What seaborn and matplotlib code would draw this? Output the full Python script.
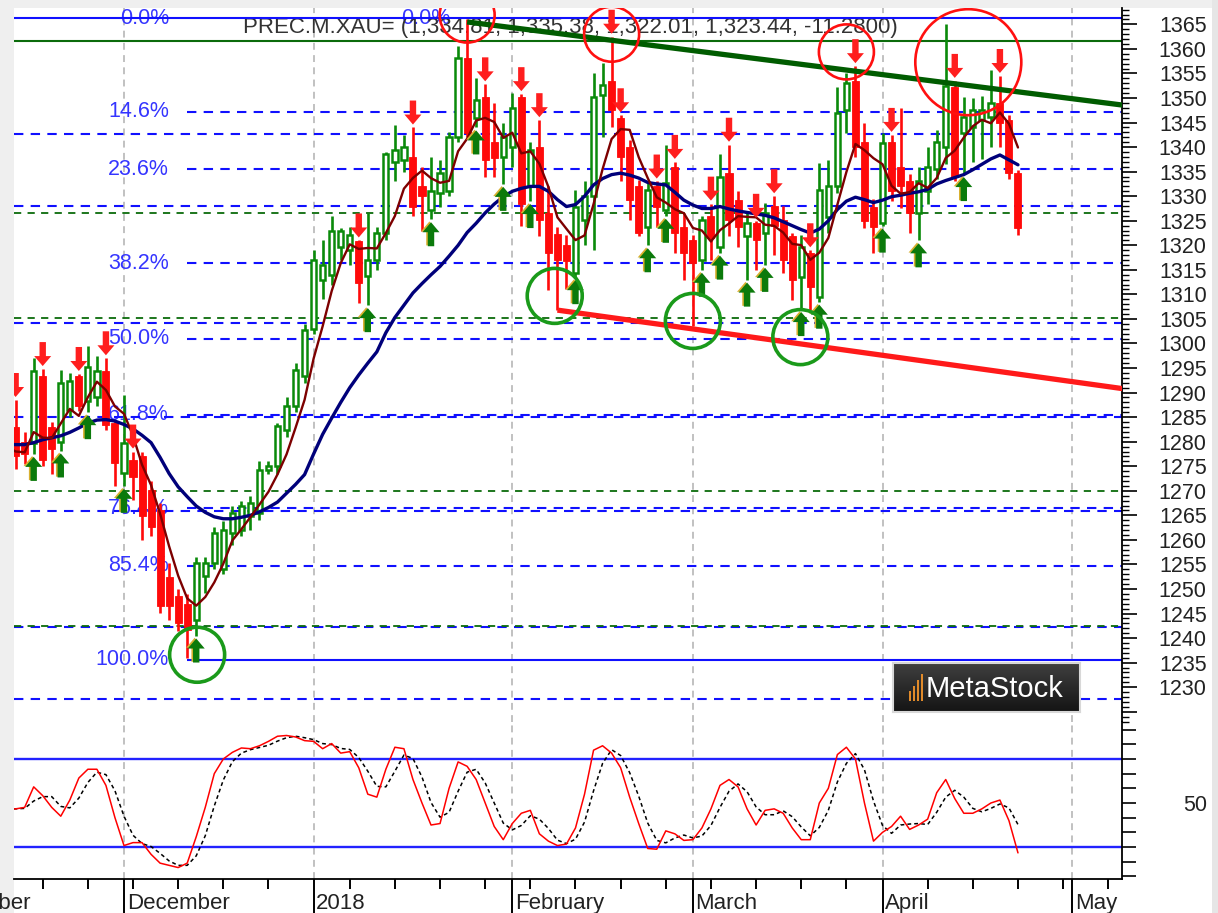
import numpy as np
import pandas as pd
import matplotlib
matplotlib.use("Agg")
import matplotlib.pyplot as plt
import matplotlib.transforms as mtransforms
from matplotlib.path import Path
from matplotlib.patches import Rectangle
from matplotlib.ticker import FixedLocator, FixedFormatter, NullFormatter
import seaborn as sns

# ---------------------------------------------------------------- data
title_text = "PREC.M.XAU= (1,334.81, 1,335.38, 1,322.01, 1,323.44, -11.2800)"
first_date = "2017-11-14"
closed_days = ["2018-01-01", "2018-03-30"]
month_names = {11: "November", 12: "December", 1: "2018", 2: "February",
               3: "March", 4: "April", 5: "May"}

open_ = [1282, 1283, 1280, 1279.7, 1293.3, 1283, 1280, 1286.5, 1293.3, 1288.2,
         1289.2, 1294.3, 1283.8, 1273.6, 1276.3, 1277, 1270.2, 1266, 1252.5, 1248.5,
         1247, 1243.7, 1252.6, 1255.3, 1254, 1261.4, 1262.1, 1264.8, 1265.5, 1274.3,
         1275, 1282.4, 1287.2, 1293.3, 1303, 1313, 1314, 1319.6, 1319, 1320.8,
         1313.7, 1317, 1322.5, 1337, 1337.4, 1338, 1332, 1327.2, 1330.6, 1331,
         1342.1, 1358.1, 1346, 1350.3, 1341, 1338, 1340, 1350.3, 1332, 1340.1,
         1326.5, 1322.4, 1320, 1314.3, 1325.2, 1330, 1350.6, 1353.5, 1346, 1340,
         1332, 1323.8, 1332, 1327.2, 1336, 1323.8, 1321, 1317, 1326, 1319.7,
         1334.7, 1329.2, 1321.8, 1324.5, 1322.5, 1328, 1325.2, 1321.8, 1313.6, 1318.5,
         1309.5, 1325.8, 1332, 1347.6, 1353.5, 1341, 1327.9, 1324.5, 1341, 1336,
         1333, 1326.5, 1331, 1335.5, 1340, 1352.3, 1342.8, 1344.2, 1345.5, 1346.2,
         1349, 1345.5, 1334.81]
high = [1284, 1288.5, 1282, 1297, 1294.8, 1284, 1294.6, 1294, 1293.8, 1299.4,
        1297.4, 1297, 1284.5, 1289.6, 1278, 1278, 1272, 1267.5, 1255.3, 1250,
        1249, 1256.6, 1256.6, 1262.7, 1263.8, 1267, 1268, 1269, 1276, 1276,
        1283.8, 1289.2, 1296, 1304, 1319, 1321, 1326, 1323.5, 1323.8, 1321,
        1326.5, 1323.8, 1339.1, 1344.5, 1342.5, 1344, 1336, 1338, 1337.4, 1343,
        1360.5, 1366.1, 1354, 1352.8, 1349, 1345, 1351, 1350.8, 1341.1, 1345.5,
        1332, 1323.8, 1322, 1331.3, 1333, 1355, 1357.1, 1362.5, 1346.5, 1341.5,
        1333.3, 1333, 1333, 1340.4, 1337, 1326.5, 1322, 1326, 1328.5, 1338.7,
        1340.5, 1331, 1326.5, 1325, 1328.6, 1330, 1328, 1322.5, 1322, 1319,
        1336.7, 1337.4, 1352.3, 1355, 1356.5, 1345, 1329.5, 1342.8, 1342.5, 1348,
        1334.5, 1336, 1340, 1343.5, 1365, 1353.5, 1350.3, 1350, 1350.5, 1355.7,
        1354.5, 1346.5, 1335.38]
low = [1276.5, 1274.5, 1275.5, 1277.5, 1275, 1273.5, 1278.2, 1285, 1286.2, 1286,
       1287.2, 1282.4, 1270.9, 1271, 1268.2, 1260, 1260.7, 1245.1, 1243.7, 1241.5,
       1235.9, 1240.5, 1249.2, 1254, 1253, 1259, 1260.7, 1262, 1264, 1273.5,
       1273.5, 1281, 1286, 1292, 1302, 1309, 1312, 1317, 1316, 1308.2,
       1307.8, 1315, 1321, 1333, 1335, 1325.9, 1323, 1325.3, 1327.9, 1330,
       1341, 1342.1, 1344, 1334, 1334, 1332.5, 1336, 1324, 1329, 1321.8,
       1310.9, 1306.8, 1311, 1313.5, 1320, 1319, 1342, 1344, 1333, 1325.2,
       1321.8, 1320, 1323.8, 1326, 1318.4, 1313, 1303.5, 1315, 1317, 1318.5,
       1321.8, 1319.7, 1313, 1315, 1316, 1318, 1314.3, 1308.9, 1307, 1306.8,
       1308.5, 1322.5, 1330.6, 1342.8, 1338, 1323.5, 1318.4, 1324, 1329, 1327.5,
       1322.5, 1321, 1328.5, 1333.5, 1336.5, 1333, 1334.5, 1337, 1337.5, 1340,
       1340, 1333.5, 1322.01]
close = [1279, 1277, 1277.5, 1294.3, 1276.3, 1278.5, 1292, 1292.3, 1287.2, 1295.3,
         1294.3, 1283.5, 1275.6, 1279.7, 1272.9, 1264.8, 1262.7, 1246.5, 1246.5, 1243,
         1241.7, 1255.3, 1255.3, 1261.4, 1262, 1265.4, 1266.8, 1267.5, 1274.3, 1275,
         1283.1, 1287.2, 1294.6, 1302.8, 1317, 1316, 1323, 1323, 1322, 1312.3,
         1317, 1322.5, 1338.7, 1339.4, 1340.1, 1327.9, 1330, 1331, 1334.7, 1342,
         1358.1, 1342.8, 1349.5, 1337.4, 1337.8, 1342, 1348, 1328.5, 1339.4, 1325.2,
         1318.4, 1317, 1316.8, 1327.9, 1330, 1350.3, 1352.6, 1347.5, 1338, 1329.2,
         1322.5, 1331.3, 1327.9, 1332.6, 1322.5, 1318.4, 1316.3, 1325.2, 1321.5, 1334,
         1325.2, 1323.8, 1324.5, 1321, 1326.5, 1324, 1317, 1313, 1319.7, 1311.5,
         1331.3, 1332, 1346.9, 1353, 1340, 1325, 1323.8, 1340.8, 1331, 1332,
         1326.5, 1333, 1336, 1341, 1352.5, 1334, 1346.2, 1347.6, 1347.6, 1348.9,
         1345, 1334.7, 1323.44]
# slow moving average (navy)
ma_slow = [1279.5, 1279.4, 1279.4, 1279.8, 1280.4, 1280.8, 1281.2, 1281.9, 1282.8, 1283.8,
           1284.4, 1284.5, 1284.2, 1283.5, 1282.6, 1281.3, 1279.8, 1276.8, 1273.5, 1270.8,
           1268.8, 1266.9, 1265.6, 1264.7, 1264.3, 1264.3, 1264.6, 1265.0, 1265.7, 1266.6,
           1267.7, 1269.5, 1271.3, 1273.3, 1277.5, 1281.5, 1284.8, 1288.0, 1291.0, 1293.6,
           1296.0, 1298.3, 1302.2, 1305.3, 1307.8, 1310.3, 1312.2, 1314.0, 1315.7, 1317.8,
           1320.0, 1322.6, 1324.5, 1326.6, 1328.4, 1329.9, 1331.0, 1331.6, 1332.0, 1332.0,
           1331.0, 1329.3, 1327.9, 1328.3, 1330.0, 1332.3, 1333.6, 1334.4, 1334.7, 1334.3,
           1333.7, 1332.8, 1332.5, 1332.3, 1330.8, 1329.2, 1328.2, 1327.5, 1327.5, 1327.9,
           1327.4, 1327.0, 1326.7, 1326.4, 1326.1, 1325.6, 1324.8, 1324.0, 1323.2, 1322.5,
           1323.3, 1325.0, 1327.3, 1329.0, 1329.8, 1329.3, 1328.7, 1329.2, 1329.9, 1330.2,
           1330.6, 1330.9, 1331.4, 1332.5, 1333.2, 1333.8, 1334.4, 1335.4, 1336.5, 1337.6,
           1338.4, 1337.4, 1336.4]
fast_period = 5
# stochastic %K (red)
stoch_k = [46, 46, 47, 61, 55, 47, 41, 52, 67, 73,
           73, 62, 40, 21, 23, 23, 15, 9, 7.5, 6,
           9, 27, 47, 70, 80, 84.5, 87.5, 87, 89, 92,
           95.5, 96, 95, 92.5, 92, 87, 90.5, 84, 85, 74,
           56, 54, 73, 88, 87, 66, 50, 35, 36, 60,
           78, 75, 66, 50, 34, 25, 36, 43, 45, 29,
           24, 21, 22, 33, 56, 86, 89, 84, 74, 54,
           36, 19, 18.5, 31, 29, 24.5, 25, 33, 46, 62,
           66, 61, 46, 35, 45, 46, 43, 33, 25, 25,
           50, 60, 83, 88, 80, 50, 24, 30, 34, 41,
           32, 35, 39, 57, 66, 53, 43, 43, 46, 50,
           52, 38, 16]
stoch_levels = [80, 20]

sell_signals = [1, 4, 8, 11, 14, 39, 45, 53, 57, 59, 67, 68, 72, 74, 78, 80, 83, 85, 89, 94, 98, 105, 110]
buy_signals = [3, 6, 9, 13, 21, 40, 47, 52, 55, 58, 63, 71, 73, 77, 79, 82, 84, 88, 90, 97, 101, 106]

top_circles = [(51, 1366.9), (67, 1363.0), (93, 1359.4)]
big_top_circle = (106.5, 1357.3)
bottom_circles = [(21.1, 1236.6), (60.7, 1309.7), (76.0, 1304.6), (87.9, 1301.3)]

resistance = [(51, 1365.5), (93, 1355.7)]
support = [(61, 1306.8), (88, 1299.9)]

fib_ratios = [0.0, 0.146, 0.236, 0.382, 0.5, 0.618, 0.764, 0.854, 1.0]
fib_labels = ["0.0%", "14.6%", "23.6%", "38.2%", "50.0%", "61.8%", "76.4%", "85.4%", "100.0%"]
fib1_high, fib1_low, fib1_start = 1366.3, 1235.6, 20
fib2_high, fib2_low = 1366.3, 1203.8
green_top = 1361.6
green_levels = [1326.6, 1305.2, 1269.9, 1242.4]

price_ticks = list(range(1225, 1366, 5))

for nm, arr in [("open", open_), ("high", high), ("low", low), ("close", close),
                ("ma", ma_slow), ("k", stoch_k)]:
    if len(arr) != len(close):
        print("length mismatch", nm, len(arr))

# ---------------------------------------------------------------- calendar
cal = pd.bdate_range("2017-11-01", "2018-05-31")
cal = cal[~cal.isin(pd.to_datetime(closed_days))]
i0 = cal.get_loc(pd.Timestamp(first_date))
cal_pos = np.arange(len(cal)) - i0
months = np.asarray(cal.month)
wdays = np.asarray(cal.weekday)
ms_mask = np.r_[True, months[1:] != months[:-1]]
wk_mask = np.r_[True, wdays[1:] < wdays[:-1]] & ~ms_mask
month_pos = cal_pos[ms_mask]
month_lab = [month_names[m] for m in months[ms_mask]]
week_pos = cal_pos[wk_mask]

n = len(close)
xs = np.arange(n)
O = np.array(open_, float); Hh = np.array(high, float)
L = np.array(low, float); C = np.array(close, float)
df = pd.DataFrame({"x": xs, "close": C, "slow": ma_slow, "k": stoch_k})
df["fast"] = df["close"].rolling(fast_period, min_periods=1).mean()
df["d"] = df["k"].rolling(3, min_periods=1).mean()

# ---------------------------------------------------------------- style
sns.set_theme(style="white")
plt.rcParams['font.family'] = ['Liberation Sans', 'DejaVu Sans']
plt.rcParams['axes.linewidth'] = 1.3

GREEN = "#0a8a0a"
RED = "#ff0a0a"
BLUE = "#1010ff"
LBLUE = "#3535ff"
DGREEN = "#0b6b0b"
GRID = "#b0b0b0"

W, H = 1218, 913
fig = plt.figure(figsize=(W / 100, H / 100), dpi=100)
fig.patch.set_facecolor("white")


def fbox(x0, y0, x1, y1):
    return [x0 / W, 1 - y1 / H, (x1 - x0) / W, (y1 - y0) / H]


ax = fig.add_axes(fbox(14, 8, 1122, 722))
axs = fig.add_axes(fbox(14, 722, 1122, 879), sharex=ax)
xl, xr = 0.82, 123.52
ax.set_xlim(xl, xr)
ax.set_ylim(1222.9, 1368.34)
axs.set_ylim(-1.8, 105.2)
for a in (ax, axs):
    a.set_facecolor("white")
    a.grid(False)

# window frame
fig.patches.append(Rectangle((0, 0), 14 / W, 1, transform=fig.transFigure,
                             facecolor="#efefef", edgecolor="none", zorder=-5))
fig.patches.append(Rectangle((0, 1 - 8 / H), 1, 8 / H, transform=fig.transFigure,
                             facecolor="#efefef", edgecolor="none", zorder=-5))
fig.patches.append(Rectangle((1212 / W, 0), 6 / W, 1, transform=fig.transFigure,
                             facecolor="#e6e6e6", edgecolor="none", zorder=-5))

# month grid lines
for a in (ax, axs):
    for p in month_pos:
        if xl < p < xr:
            a.axvline(p, color=GRID, lw=1.1, ls=(0, (4.5, 3.5)), zorder=0.5)

# fibonacci levels
ax.axhline(fib2_high, color=BLUE, lw=1.5, zorder=1)
for r in fib_ratios[1:-1]:
    lv = fib2_high - r * (fib2_high - fib2_low)
    ax.axhline(lv, color=BLUE, lw=1.5, ls=(0, (4.5, 3.5)), zorder=1)
for r in fib_ratios[1:-1]:
    lv = fib1_high - r * (fib1_high - fib1_low)
    ax.hlines(lv, fib1_start, xr, color=BLUE, lw=1.5, ls=(0, (4.5, 3.5)), zorder=1)
ax.hlines(fib1_low, fib1_start, xr, color=BLUE, lw=1.5, zorder=1)
ax.axhline(green_top, color=DGREEN, lw=1.5, zorder=1)
for lv in green_levels:
    ax.axhline(lv, color=DGREEN, lw=1.3, ls=(0, (4, 3.5)), zorder=1)

lab_tr = ax.get_yaxis_transform()
for r, t in zip(fib_ratios, fib_labels):
    lv = fib1_high - r * (fib1_high - fib1_low)
    ax.text((169 - 14) / 1108, lv, t, transform=lab_tr, ha="right", va="center",
            fontsize=15.5, color=LBLUE, zorder=0.8)
ax.text((450 - 14) / 1108, fib2_high, fib_labels[0], transform=lab_tr, ha="right",
        va="center", fontsize=15.5, color=LBLUE, zorder=0.8)
ax.text((243 - 14) / 1108, 1 - (27 - 8) / 714, title_text, transform=ax.transAxes,
        ha="left", va="center", fontsize=16, color="#333333", zorder=0.9)

# candles
up = C >= O
ax.vlines(xs[up], L[up], Hh[up], color=GREEN, lw=1.9, zorder=2)
ax.vlines(xs[~up], L[~up], Hh[~up], color=RED, lw=1.9, zorder=2)
ax.bar(xs[up], np.maximum(C - O, 0.35)[up], bottom=O[up], width=0.58,
       facecolor="white", edgecolor=GREEN, linewidth=1.8, zorder=3)
ax.bar(xs[~up], (O - C)[~up], bottom=C[~up], width=0.78,
       facecolor=RED, edgecolor=RED, linewidth=0.6, zorder=3)

# moving averages
sns.lineplot(data=df, x="x", y="slow", ax=ax, color="#00007a", lw=2.4,
             legend=False, zorder=4, sort=False)
sns.lineplot(data=df, x="x", y="fast", ax=ax, color="#7d0000", lw=1.7,
             legend=False, zorder=4.2, sort=False)


# trend lines
def trend(p1, p2, color):
    (xa, ya), (xb, yb) = p1, p2
    s = (yb - ya) / (xb - xa)
    sns.lineplot(x=[xa, xr + 1], y=[ya, ya + s * (xr + 1 - xa)], ax=ax, color=color,
                 lw=3.8, legend=False, zorder=5, solid_capstyle="butt")


trend(*resistance, color="#005c00")
trend(*support, color="#ff1a1a")

# signal arrows
v = np.array([(0, 0), (8.5, 10), (3.2, 10), (3.2, 24), (-3.2, 24), (-3.2, 10), (-8.5, 10), (0, 0)], float)
codes = [Path.MOVETO] + [Path.LINETO] * 6 + [Path.CLOSEPOLY]
down_arrow = Path(v, codes)
v2 = v.copy(); v2[:, 1] *= -1
up_arrow = Path(v2, codes)
asz = (48 * 0.72) ** 2
sx = np.array(sell_signals); bx = np.array(buy_signals)
ax.scatter(sx, Hh[sx] + 0.6, marker=down_arrow, s=asz, color="#ff1e1e",
           edgecolors="none", zorder=6)
shadow = mtransforms.offset_copy(ax.transData, fig=fig, x=-1.6, y=0.8, units="dots")
ax.scatter(bx, L[bx] - 0.6, marker=up_arrow, s=asz, color="#d8b030",
           edgecolors="none", zorder=5.9, transform=shadow)
ax.scatter(bx, L[bx] - 0.6, marker=up_arrow, s=asz, color="#0b7a0b",
           edgecolors="none", zorder=6)

# circles
cs = (55 * 0.72) ** 2
tc = np.array(top_circles)
ax.scatter(tc[:, 0], tc[:, 1], s=cs, facecolors="none", edgecolors="#ff1010",
           linewidths=1.9, zorder=7)
ax.scatter([big_top_circle[0]], [big_top_circle[1]], s=(106 * 0.72) ** 2,
           facecolors="none", edgecolors="#ff1010", linewidths=1.9, zorder=7)
bc = np.array(bottom_circles)
ax.scatter(bc[:, 0], bc[:, 1], s=cs, facecolors="none", edgecolors="#1a9a1a",
           linewidths=2.6, zorder=7)

# stochastic pane
for lv in stoch_levels:
    axs.axhline(lv, color="#2222ff", lw=1.7, zorder=1)
sns.lineplot(data=df, x="x", y="d", ax=axs, color="black", lw=1.1,
             linestyle=(0, (2.5, 2)), legend=False, zorder=3, sort=False)
sns.lineplot(data=df, x="x", y="k", ax=axs, color="#ff0000", lw=1.1,
             legend=False, zorder=4, sort=False)

# axes cosmetics
for a in (ax, axs):
    a.set_xlabel(""); a.set_ylabel("")
    for s in ("top", "left"):
        a.spines[s].set_visible(False)
    a.spines["right"].set_color("black")
ax.spines["bottom"].set_visible(False)
axs.spines["bottom"].set_color("black")

ax.yaxis.tick_right()
ax.yaxis.set_major_locator(FixedLocator(price_ticks))
ax.yaxis.set_major_formatter(FixedFormatter([str(t) if t >= 1230 else "" for t in price_ticks]))
ax.yaxis.set_minor_locator(FixedLocator(list(range(1223, 1369))))
ax.tick_params(axis="y", which="major", right=True, left=False, length=10.5, width=1.2,
               color="black", pad=50.5, labelsize=15.5, labelcolor="#222222",
               labelright=True, labelleft=False)
ax.tick_params(axis="y", which="minor", right=True, left=False, length=5, width=1.0,
               color="black")
for lab in ax.get_yticklabels():
    lab.set_horizontalalignment("right")
ax.tick_params(axis="x", which="both", bottom=False, top=False, labelbottom=False)

axs.yaxis.tick_right()
stoch_ticks = list(range(0, 101, 10))
axs.yaxis.set_major_locator(FixedLocator(stoch_ticks))
axs.yaxis.set_major_formatter(FixedFormatter(["50" if t == 50 else "" for t in stoch_ticks]))
axs.tick_params(axis="y", which="major", right=True, left=False, length=10, width=1.2,
                color="black", pad=51, labelsize=15.5, labelcolor="#222222",
                labelright=True, labelleft=False)
for lab in axs.get_yticklabels():
    lab.set_horizontalalignment("right")

axs.xaxis.set_major_locator(FixedLocator(list(month_pos)))
axs.xaxis.set_minor_locator(FixedLocator(list(week_pos)))
axs.xaxis.set_major_formatter(NullFormatter())
axs.tick_params(axis="x", which="major", bottom=True, length=25, width=1.4,
                color="black", direction="out")
axs.tick_params(axis="x", which="minor", bottom=True, length=7, width=1.4,
                color="black", direction="out")
xtr = axs.get_xaxis_transform()
for p, t in zip(month_pos, month_lab):
    axs.text(p + 0.3, -30 / 157, t, transform=xtr, ha="left", va="baseline",
             fontsize=16, color="#222222", clip_on=False)

# MetaStock badge
lg = fig.add_axes(fbox(893, 663, 1080, 712))
grad = np.linspace(0.25, 0.08, 50)[:, None] * np.ones((1, 10))
lg.imshow(grad, cmap="gray", vmin=0, vmax=1, aspect="auto", extent=(0, 1, 0, 1))
for s in lg.spines.values():
    s.set_color("#d8d8d8"); s.set_linewidth(1.5)
lg.set_xticks([]); lg.set_yticks([])
for k, hgt in enumerate([0.25, 0.4, 0.55, 0.7]):
    lg.add_patch(Rectangle((0.085 + k * 0.022, 0.22), 0.012, hgt * 0.8,
                           facecolor="#e08a2a", edgecolor="none"))
lg.text(0.175, 0.47, "MetaStock", color="white", fontsize=21, ha="left", va="center")
lg.set_xlim(0, 1); lg.set_ylim(0, 1)

fig.savefig("out.png", dpi=100, facecolor="white")
